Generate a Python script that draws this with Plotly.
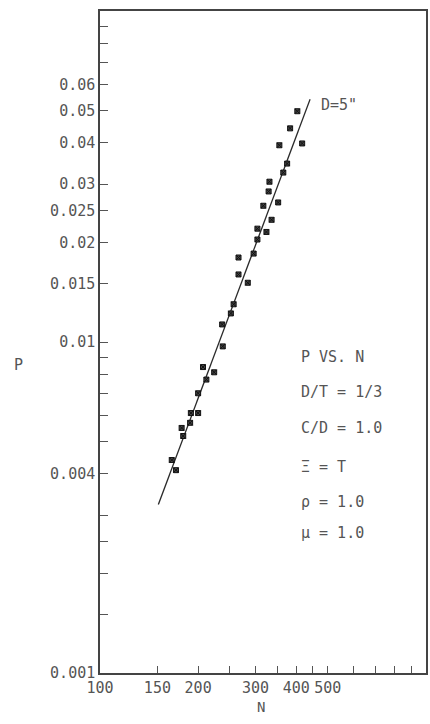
import plotly.graph_objects as go

# Data (P vs N, D = 5")
N_vals = [403, 383, 355, 417, 375, 365, 331, 329, 352, 317, 336, 304, 324, 304,
          296, 266, 266, 284, 257, 252, 237, 238, 207, 224, 212, 200, 190, 200,
          189, 178, 180, 166, 171]
P_vals = [0.0498, 0.0442, 0.0393, 0.0398, 0.0346, 0.0325, 0.0305, 0.0285, 0.0264,
          0.0258, 0.0234, 0.0220, 0.0215, 0.0204, 0.0185, 0.0180, 0.0160, 0.0151,
          0.0130, 0.0122, 0.0113, 0.0097, 0.0084, 0.0081, 0.0077, 0.0070, 0.0061,
          0.0061, 0.0057, 0.0055, 0.0052, 0.0044, 0.0041]

# Fitted line end points
line_N = [151, 441]
line_P = [0.00323, 0.0541]

# Axis ticks
x_tickvals = [100, 150, 200, 250, 300, 350, 400, 450, 500, 600, 700, 800, 900, 1000]
x_ticktext = ["100", "150", "200", "", "300", "", "400", "", "500", "", "", "", "", ""]
y_tickvals = [0.001, 0.0015, 0.002, 0.0025, 0.003, 0.004, 0.005, 0.006, 0.007, 0.008,
              0.009, 0.01, 0.015, 0.02, 0.025, 0.03, 0.04, 0.05, 0.06, 0.07, 0.08, 0.09]
y_ticktext = ["0.001", "", "", "", "", "0.004", "", "", "", "", "", "0.01", "0.015",
              "0.02", "0.025", "0.03", "0.04", "0.05", "0.06", "", "", ""]

legend_lines = ["P VS. N", "D/T = 1/3", "C/D = 1.0", "\u039e = T", "\u03c1 = 1.0", "\u03bc = 1.0"]
legend_y_px = [357, 392, 428, 467, 502, 533]

FONT = "DejaVu Sans Mono, Liberation Mono, monospace"
TXT = "#555555"

fig = go.Figure()
fig.add_trace(go.Scatter(x=line_N, y=line_P, mode="lines",
                         line=dict(color="#2a2a2a", width=1.3),
                         showlegend=False, hoverinfo="skip"))
fig.add_trace(go.Scatter(x=N_vals, y=P_vals, mode="markers",
                         marker=dict(symbol="square-x", size=5, color="#444444",
                                     line=dict(color="#111111", width=1)),
                         showlegend=False))

L, R, T, B = 100, 2, 11, 51
W, H = 430, 724
pw, ph = W - L - R, H - T - B

def px(x):
    return (x - L) / pw

def py(y):
    return (H - B - y) / ph

ann = []
for txt, yy in zip(legend_lines, legend_y_px):
    ann.append(dict(x=px(300), y=py(yy), xref="paper", yref="paper", text=txt,
                    showarrow=False, xanchor="left", yanchor="middle",
                    font=dict(family=FONT, size=15, color=TXT)))
ann.append(dict(x=px(320), y=py(105), xref="paper", yref="paper", text='D=5"',
                showarrow=False, xanchor="left", yanchor="middle",
                font=dict(family=FONT, size=15, color=TXT)))
ann.append(dict(x=px(18), y=py(365), xref="paper", yref="paper", text="P",
                showarrow=False, xanchor="center", yanchor="middle",
                font=dict(family=FONT, size=15, color=TXT)))
ann.append(dict(x=px(262), y=py(707), xref="paper", yref="paper", text="N",
                showarrow=False, xanchor="center", yanchor="middle",
                font=dict(family=FONT, size=14, color=TXT)))

fig.update_layout(
    width=W, height=H,
    margin=dict(l=L, r=R, t=T, b=B),
    paper_bgcolor="white", plot_bgcolor="white",
    font=dict(family=FONT, size=15, color=TXT),
    annotations=ann,
    xaxis=dict(type="log", range=[2, 3], tickmode="array", tickvals=x_tickvals,
               ticktext=x_ticktext, ticks="inside", ticklen=7, tickcolor="#555",
               showgrid=False, zeroline=False, showline=True, linecolor="#444",
               linewidth=1.5, mirror=True, tickfont=dict(family=FONT, size=15, color=TXT)),
    yaxis=dict(type="log", range=[-3, -1], tickmode="array", tickvals=y_tickvals,
               ticktext=y_ticktext, ticks="inside", ticklen=8, tickcolor="#555",
               showgrid=False, zeroline=False, showline=True, linecolor="#444",
               linewidth=1.5, mirror=True, tickfont=dict(family=FONT, size=15, color=TXT)),
)

fig.write_html("out.html")
